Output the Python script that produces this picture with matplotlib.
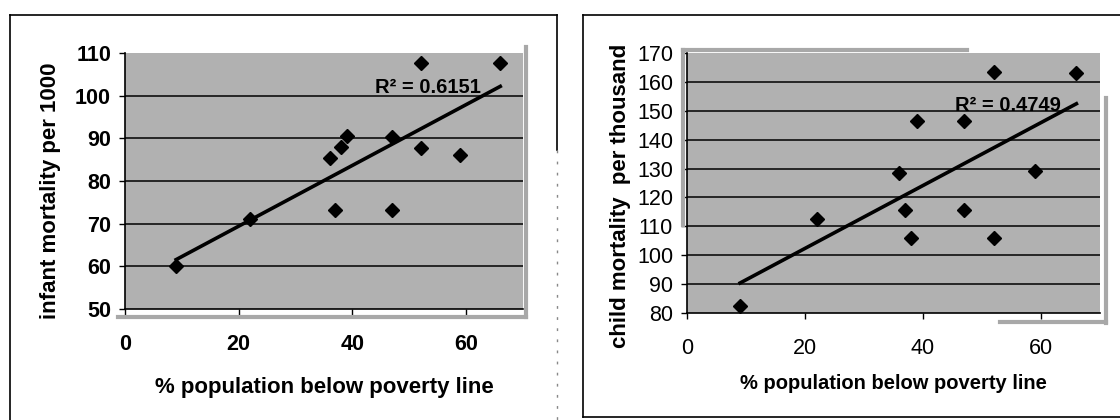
import matplotlib.pyplot as plt
import numpy as np
from matplotlib.lines import Line2D

plt.rcParams['font.family'] = ['Liberation Sans', 'DejaVu Sans']

# % population below poverty line (same countries in both panels)
poverty = [9, 22, 36, 37, 38, 39, 47, 47, 52, 52, 59, 66]
infant_mort = [60, 71, 85.5, 73.3, 88, 90.5, 90.3, 73.3, 107.7, 87.7, 86, 107.7]
child_mort = [82.5, 112.5, 128.6, 115.6, 106, 146.6, 146.6, 115.8, 163.4, 105.8, 129.3, 163]

xticks = [0, 20, 40, 60]
infant_ticks = [50, 60, 70, 80, 90, 100, 110]
child_ticks = [80, 90, 100, 110, 120, 130, 140, 150, 160, 170]

W, H = 1120, 420
fig = plt.figure(figsize=(11.2, 4.2), dpi=100)
fig.patch.set_facecolor('white')


def px(x, y, w, h):
    # pixel box (from top-left) -> figure fraction rect
    return [x / W, 1 - (y + h) / H, w / W, h / H]


def panel(rect, yvals, yticks, ylab, r2_text, r2_pos, bold_ticks,
          xlab_size, ylab_xy, xlab_y):
    ax = fig.add_axes(px(*rect))
    ax.set_facecolor('#b1b1b1')
    x = np.array(poverty, dtype=float)
    y = np.array(yvals, dtype=float)
    k, b = np.polyfit(x, y, 1)
    xs = np.array([x.min(), x.max()])
    ax.plot(xs, k * xs + b, color='black', lw=2.6, zorder=3)
    ax.plot(x, y, 'D', color='black', ms=7.5, zorder=4)
    ax.set_xlim(0, 70)
    ax.set_ylim(yticks[0], yticks[-1])
    ax.set_xticks(xticks)
    ax.set_yticks(yticks)
    for t in yticks[1:-1]:
        ax.axhline(t, color='black', lw=1.1, zorder=1)
    ax.tick_params(axis='both', labelsize=15.5, length=4, width=1,
                   color='black', direction='out')
    ax.tick_params(axis='x', pad=14)
    ax.tick_params(axis='y', pad=6)
    fw = 'bold' if bold_ticks else 'normal'
    for lab in ax.get_xticklabels() + ax.get_yticklabels():
        lab.set_fontweight(fw)
    for s in ['top', 'right']:
        ax.spines[s].set_visible(False)
    ax.spines['left'].set_linewidth(1.2)
    ax.spines['bottom'].set_linewidth(1.2)
    ax.set_xlabel('% population below poverty line', fontsize=xlab_size,
                  fontweight='bold', va='center')
    ax.xaxis.set_label_coords(0.5, xlab_y)
    ax.set_ylabel(ylab, fontsize=16, fontweight='bold', va='center')
    ax.yaxis.set_label_coords(*ylab_xy)
    ax.text(r2_pos[0], r2_pos[1], r2_text, fontsize=14.5, fontweight='bold',
            ha='left', va='center', zorder=5)
    return ax


panel((125, 53, 398, 256), infant_mort, infant_ticks,
      'infant mortality per 1000', 'R² = 0.6151', (44.0, 102.0), True,
      16, (-0.188, 0.46), -0.305)
panel((687, 53, 413, 260), child_mort, child_ticks,
      'child mortality  per thousand', 'R² = 0.4749', (45.5, 151.8), False,
      14.5, (-0.160, 0.452), -0.273)


def fline(x0, y0, x1, y1, color='black', lw=1.2, ls='-'):
    fig.add_artist(Line2D([x0 / W, x1 / W], [1 - y0 / H, 1 - y1 / H],
                          transform=fig.transFigure, color=color, lw=lw, ls=ls))


# outer frames of the two chart boxes
fline(10, 15, 557, 15)
fline(10, 15, 10, 420)
fline(557, 15, 557, 150)
fline(557, 150, 557, 420, color='#888888', lw=1, ls=(0, (2, 6)))
fline(583, 15, 1120, 15)
fline(583, 15, 583, 417)
fline(583, 417, 1120, 417)

# light grey shadow edges around the plot areas
grey = dict(color='#a8a8a8', lw=3)
fline(118, 317, 526, 317, **grey)
fline(526, 47, 526, 317, **grey)
fline(683, 50, 967, 50, **grey)
fline(683, 50, 683, 225, **grey)
fline(1106, 98, 1106, 323, **grey)
fline(1000, 322, 1106, 322, **grey)

fig.savefig('out.png', dpi=100)
